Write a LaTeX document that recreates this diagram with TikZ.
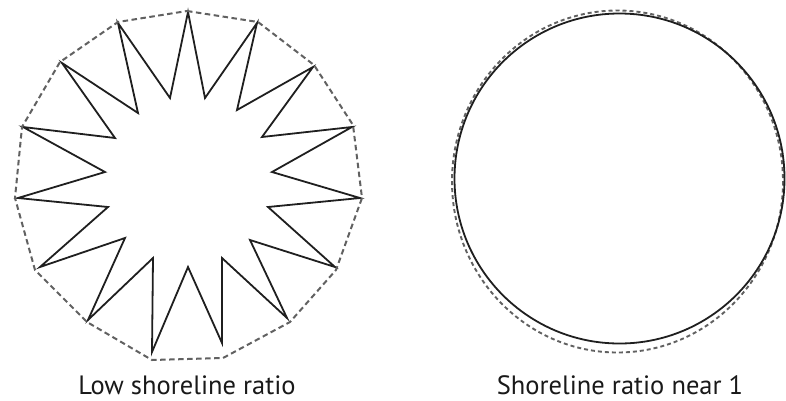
\documentclass[tikz,border=0pt]{standalone}
\usepackage{fontspec}
\setmainfont{PT Sans}
\begin{document}
\begin{tikzpicture}[x=1pt,y=-1pt,
  shore/.style={line width=1.8pt,black!88,line join=miter},
  hull/.style={line width=2pt,black!62,dash pattern=on 5.5pt off 3.5pt},
  hullfine/.style={line width=1.9pt,black!62,dash pattern=on 4pt off 3pt},
  lab/.style={font=\fontsize{26.5}{30}\selectfont,text=black!90,anchor=base,inner sep=0pt}]
\useasboundingbox (0,0) rectangle (786,400);
% irregular star (low shoreline ratio)
\draw[shore] (188,12) -- (205,98) -- (257,23) -- (237,110) -- (313,67) -- (262,137)
  -- (352,127) -- (272,172) -- (360,198) -- (268,207) -- (335,267) -- (250,240)
  -- (287,318) -- (222,258) -- (222,343) -- (188,267) -- (152,352) -- (153,258)
  -- (88,320) -- (125,238) -- (40,267) -- (108,207) -- (18,198) -- (105,172)
  -- (23,127) -- (115,138) -- (62,63) -- (138,113) -- (118,23) -- (170,98) -- cycle;
% dashed hull
\draw[hull] (187,11) -- (258,22) -- (314,65) -- (353,125) -- (362,198) -- (336,270)
  -- (290,322) -- (223,358) -- (152,360) -- (87,322) -- (35,270) -- (15,198)
  -- (22,127) -- (60,62) -- (118,22) -- cycle;
% circle (shoreline ratio near 1)
\draw[hullfine] (617.5,181.5) ellipse (165.5 and 171);
\draw[line width=1.8pt,black!88] (619.5,178.5) circle (165);
% labels
\node[lab] (l1) at (187,394) {Low shoreline ratio};
\node[lab] (l2) at (620,394) {Shoreline ratio near 1};
\end{tikzpicture}
\end{document}
